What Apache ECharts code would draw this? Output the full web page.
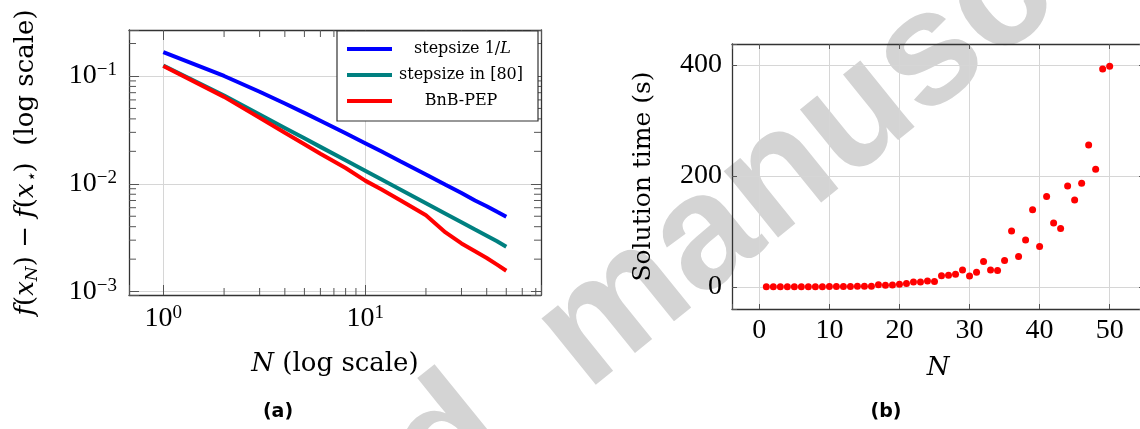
<!DOCTYPE html>
<html>
<head>
<meta charset="utf-8">
<script src="https://cdn.jsdelivr.net/npm/echarts@6/dist/echarts.min.js"></script>
<style>
  html, body { margin: 0; padding: 0; background: #fff; }
  #main { width: 1140px; height: 429px; }
</style>
</head>
<body>
<div id="main"></div>
<script>
// (a) worst-case gap vs N, log-log
const N_LINE = [1, 2, 3, 4, 5, 6, 8, 10, 12, 15, 20, 25, 30, 35, 40, 45, 50];
const STEP_1L = [0.1667, 0.100, 0.0714, 0.0556, 0.0455, 0.0385, 0.0294, 0.0238, 0.0200, 0.0161, 0.0122, 0.0098, 0.0082, 0.0070, 0.0062, 0.0055, 0.00495];
const STEP_REF = [0.125, 0.0660, 0.0440, 0.0330, 0.0264, 0.0220, 0.0165, 0.0132, 0.0110, 0.0088, 0.0066, 0.00528, 0.0044, 0.00377, 0.0033, 0.00293, 0.00261];
const BNB_PEP = [0.124, 0.0640, 0.0410, 0.0298, 0.0233, 0.0190, 0.0140, 0.0107, 0.0089, 0.0070, 0.0051, 0.00354, 0.0028, 0.00237, 0.00205, 0.00178, 0.00156];
const LINE_NAMES = ['stepsize 1/L', 'stepsize in [80]', 'BnB-PEP'];
const LINE_COLORS = ['#0000ff', '#008080', '#ff0000'];

// (b) solution time vs N
const N_TIME = [1, 2, 3, 4, 5, 6, 7, 8, 9, 10, 11, 12, 13, 14, 15, 16, 17, 18, 19, 20, 21, 22, 23, 24, 25,
  26, 27, 28, 29, 30, 31, 32, 33, 34, 35, 36, 37, 38, 39, 40, 41, 42, 43, 44, 45, 46, 47, 48, 49, 50];
const SOLVE_TIME = [0.2, 0.2, 0.3, 0.3, 0.3, 0.4, 0.4, 0.5, 0.5, 0.6, 0.7, 0.8, 0.9, 1.0, 1.2, 1.4, 4.0, 3.0, 3.6, 5.0,
  6.0, 8.7, 9.0, 10.8, 9.6, 20.0, 21.0, 23.0, 30.6, 19.8, 26.4, 45.6, 30.6, 29.4, 47.4, 100.6, 54.7, 84.7, 139.3, 72.7,
  162.8, 115.3, 105.1, 182.0, 156.8, 186.8, 255.9, 212.0, 392.8, 397.6];

// log axis minor ticks
const X_MINOR = [2, 3, 4, 5, 6, 7, 8, 9, 20, 30, 40, 50, 60, 70];
const Y_MINOR = [0.002, 0.003, 0.004, 0.005, 0.006, 0.007, 0.008, 0.009,
  0.02, 0.03, 0.04, 0.05, 0.06, 0.07, 0.08, 0.09, 0.2];

const LOG_X = [0.676, 74.3];
const LOG_Y = [0.00093, 0.267];

const SERIF = 'Liberation Serif';
const TEXT_SERIF = 'DejaVu Serif';
const BORDER = '#333';
const TICK = '#555';
const GRIDC = '#d6d6d6';
const MAJOR_LEN = 10;
const MINOR_LEN = 7;

let chart = echarts.init(document.getElementById('main'));

function powLabel(v) {
    let e = Math.round(Math.log10(v));
    if (Math.abs(Math.log10(v) - e) > 1e-6) return '';
    return '{b|10}{s|' + (e < 0 ? '\u2212' + (-e) : e) + '}';
}
function intLabel(step) {
    return function (v) { return Math.abs(v % step) < 1e-9 ? String(v) : ''; };
}
let powRich = {
    b: { fontFamily: SERIF, fontSize: 28, color: '#000', lineHeight: 30 },
    s: { fontFamily: SERIF, fontSize: 19, color: '#000', verticalAlign: 'top', lineHeight: 18 }
};
let nameRich = {
    i: { fontFamily: TEXT_SERIF, fontStyle: 'italic', fontSize: 26, color: '#000', lineHeight: 30 },
    r: { fontFamily: TEXT_SERIF, fontSize: 26, color: '#000', lineHeight: 30 },
    sub: { fontFamily: TEXT_SERIF, fontStyle: 'italic', fontSize: 17, color: '#000', verticalAlign: 'bottom', lineHeight: 14 }
};

function frameAxis(extra) {
    return Object.assign({
        axisLine: { show: true, onZero: false, lineStyle: { color: BORDER, width: 1.3 } },
        axisTick: { show: true, inside: true, length: MAJOR_LEN, lineStyle: { color: TICK } },
        axisLabel: { show: false },
        splitLine: { show: false }
    }, extra);
}

function minorTicks(data, horizontal) {
    return {
        type: 'custom', xAxisIndex: 0, yAxisIndex: 0, silent: true, clip: false, z: 3,
        data: data,
        renderItem: function (params, api) {
            let a, b, s1, s2;
            if (horizontal) {
                a = api.coord([api.value(0), LOG_Y[0]]);
                b = api.coord([api.value(0), LOG_Y[1]]);
                s1 = { x1: a[0], y1: a[1], x2: a[0], y2: a[1] - MINOR_LEN };
                s2 = { x1: b[0], y1: b[1], x2: b[0], y2: b[1] + MINOR_LEN };
            } else {
                a = api.coord([LOG_X[0], api.value(1)]);
                b = api.coord([LOG_X[1], api.value(1)]);
                s1 = { x1: a[0], y1: a[1], x2: a[0] + MINOR_LEN, y2: a[1] };
                s2 = { x1: b[0], y1: b[1], x2: b[0] - MINOR_LEN, y2: b[1] };
            }
            return { type: 'group', children: [
                { type: 'line', shape: s1, style: { stroke: TICK, lineWidth: 1 } },
                { type: 'line', shape: s2, style: { stroke: TICK, lineWidth: 1 } }
            ]};
        }
    };
}

let lineValues = [STEP_1L, STEP_REF, BNB_PEP];
let lineSeries = LINE_NAMES.map(function (name, k) {
    return {
        name: name, type: 'line', xAxisIndex: 0, yAxisIndex: 0,
        data: N_LINE.map(function (n, i) { return [n, lineValues[k][i]]; }),
        symbol: 'none', showSymbol: false,
        color: LINE_COLORS[k],
        lineStyle: { width: 4, color: LINE_COLORS[k] },
        z: 4
    };
});

let option = {
    animation: false,
    backgroundColor: '#fff',
    grid: [
        { left: 129, top: 30, width: 412, height: 265, outerBoundsMode: 'none' },
        { left: 732, top: 44, width: 412, height: 265, outerBoundsMode: 'none' }
    ],
    legend: {
        data: LINE_NAMES,
        orient: 'vertical',
        left: 337, top: 31,
        backgroundColor: '#fff',
        borderColor: BORDER, borderWidth: 1.2, borderRadius: 0,
        padding: [10, 13, 12, 10],
        itemWidth: 45, itemHeight: 4, itemGap: 10,
        icon: 'rect',
        formatter: function (name) {
            if (name === 'stepsize 1/L') return '{l|stepsize 1/}{li|L}';
            return '{c|' + name + '}';
        },
        textStyle: {
            rich: {
                c: { fontFamily: TEXT_SERIF, fontSize: 16, color: '#000', width: 128, align: 'center', lineHeight: 16 },
                l: { fontFamily: TEXT_SERIF, fontSize: 16, color: '#000', padding: [0, 0, 0, 17], lineHeight: 16 },
                li: { fontFamily: TEXT_SERIF, fontSize: 16, fontStyle: 'italic', color: '#000', lineHeight: 16 }
            }
        }
    },
    xAxis: [
        {
            gridIndex: 0, type: 'log', logBase: 10, min: LOG_X[0], max: LOG_X[1], position: 'bottom',
            axisLine: { show: true, onZero: false, lineStyle: { color: BORDER, width: 1.3 } },
            axisTick: { show: true, inside: true, length: MAJOR_LEN, lineStyle: { color: TICK } },
            axisLabel: { formatter: powLabel, margin: 9, rich: powRich },
            splitLine: { show: true, showMinLine: false, showMaxLine: false, lineStyle: { color: GRIDC, width: 1 } },
            name: '{i|N}{r| (log scale)}', nameLocation: 'middle', nameGap: 54,
            nameTextStyle: { rich: nameRich }
        },
        frameAxis({ gridIndex: 0, type: 'log', logBase: 10, min: LOG_X[0], max: LOG_X[1], position: 'top' }),
        {
            gridIndex: 1, type: 'value', min: -3.9, max: 54.9, splitNumber: 5, position: 'bottom',
            axisLine: { show: true, onZero: false, lineStyle: { color: BORDER, width: 1.3 } },
            axisTick: { show: true, inside: true, length: 5, lineStyle: { color: TICK } },
            axisLabel: { formatter: intLabel(10), margin: 8, fontFamily: SERIF, fontSize: 28, color: '#000' },
            splitLine: { show: true, showMinLine: false, showMaxLine: false, lineStyle: { color: GRIDC, width: 1 } },
            name: '{i|N}', nameLocation: 'middle', nameGap: 44,
            nameTextStyle: { rich: nameRich }
        },
        frameAxis({ gridIndex: 1, type: 'value', min: -3.9, max: 54.9, splitNumber: 5, position: 'top',
            axisTick: { show: true, inside: true, length: 5, lineStyle: { color: TICK } } })
    ],
    yAxis: [
        {
            gridIndex: 0, type: 'log', logBase: 10, min: LOG_Y[0], max: LOG_Y[1], position: 'left',
            axisLine: { show: true, onZero: false, lineStyle: { color: BORDER, width: 1.3 } },
            axisTick: { show: true, inside: true, length: MAJOR_LEN, lineStyle: { color: TICK } },
            axisLabel: { formatter: powLabel, margin: 12, rich: powRich },
            splitLine: { show: true, showMinLine: false, showMaxLine: false, lineStyle: { color: GRIDC, width: 1 } },
            name: '{i|f}{r|(}{i|x}{sub|N}{r|) \u2212 }{i|f}{r|(}{i|x}{sub|\u22c6}{r|)  (log scale)}',
            nameLocation: 'middle', nameRotate: 90, nameGap: 88,
            nameTextStyle: { rich: nameRich }
        },
        frameAxis({ gridIndex: 0, type: 'log', logBase: 10, min: LOG_Y[0], max: LOG_Y[1], position: 'right' }),
        {
            gridIndex: 1, type: 'value', min: -39.8, max: 437.8, splitNumber: 2, position: 'left',
            axisLine: { show: true, onZero: false, lineStyle: { color: BORDER, width: 1.3 } },
            axisTick: { show: true, inside: true, length: 5, lineStyle: { color: TICK } },
            axisLabel: { formatter: intLabel(200), margin: 10, fontFamily: SERIF, fontSize: 28, color: '#000' },
            splitLine: { show: true, showMinLine: false, showMaxLine: false, lineStyle: { color: GRIDC, width: 1 } },
            name: 'Solution time (s)', nameLocation: 'middle', nameRotate: 90, nameGap: 76,
            nameTextStyle: { fontFamily: TEXT_SERIF, fontSize: 25, color: '#000' }
        },
        frameAxis({ gridIndex: 1, type: 'value', min: -39.8, max: 437.8, splitNumber: 2, position: 'right',
            axisTick: { show: true, inside: true, length: 5, lineStyle: { color: TICK } } })
    ],
    series: lineSeries.concat([
        minorTicks(X_MINOR.map(function (v) { return [v, LOG_Y[0]]; }), true),
        minorTicks(Y_MINOR.map(function (v) { return [LOG_X[0], v]; }), false),
        {
            name: 'Solution time', type: 'scatter', xAxisIndex: 2, yAxisIndex: 2,
            data: N_TIME.map(function (n, i) { return [n, SOLVE_TIME[i]]; }),
            symbol: 'circle', symbolSize: 7,
            itemStyle: { color: '#ff0000', opacity: 1 },
            z: 4
        }
    ]),
    graphic: [
        {
            type: 'text', x: 580, y: 340, rotation: 0.68, z: -10, silent: true,
            style: { text: 'Accepted  manuscript', fontFamily: 'Liberation Sans', fontWeight: 'bold',
                fontSize: 162, fill: '#d4d4d4', align: 'center', verticalAlign: 'middle' }
        },
        {
            type: 'text', x: 278, y: 412, silent: true,
            style: { text: '(a)', fontFamily: 'DejaVu Sans', fontWeight: 'bold', fontSize: 19,
                fill: '#000', align: 'center', verticalAlign: 'middle' }
        },
        {
            type: 'text', x: 886, y: 412, silent: true,
            style: { text: '(b)', fontFamily: 'DejaVu Sans', fontWeight: 'bold', fontSize: 19,
                fill: '#000', align: 'center', verticalAlign: 'middle' }
        }
    ]
};

chart.setOption(option);
</script>
</body>
</html>
